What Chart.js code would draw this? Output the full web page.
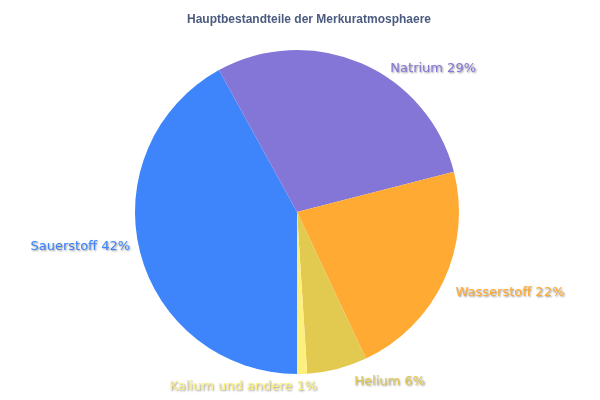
<!DOCTYPE html>
<html><head><meta charset="utf-8">
<script src="https://cdn.jsdelivr.net/npm/chart.js@4/dist/chart.umd.min.js"></script>
<style>html,body{margin:0;padding:0;background:#fff}#wrap{width:600px;height:400px}</style>
</head><body><div id="wrap"><canvas id="c"></canvas></div>
<script>
const categories = ["Sauerstoff", "Natrium", "Wasserstoff", "Helium", "Kalium und andere"];
const values = [42, 29, 22, 6, 1];
const colors = ["#3e84fb", "#8476d6", "#ffab33", "#e2c94f", "#fff07e"];
const titleText = "Hauptbestandteile der Merkuratmosphaere";
// label placement relative to slice edge point: [dx, dy, align]
const labelOffsets = [[-10, -6, "right"], [29, 5, "left"], [12, 12, "left"], [17, 13, "left"], [15, 13, "right"]];

const labelPlugin = {
  id: "outLabels",
  afterDraw(chart) {
    const ctx = chart.ctx;
    const meta = chart.getDatasetMeta(0);
    ctx.save();
    ctx.font = "bold 12px 'Liberation Sans', Arial, sans-serif";
    ctx.fillStyle = "#4b5b80";
    ctx.textAlign = "center";
    ctx.textBaseline = "middle";
    ctx.fillText(titleText, 309, 20);
    ctx.font = "13px 'DejaVu Sans', sans-serif";
    ctx.textBaseline = "middle";
    meta.data.forEach((arc, i) => {
      const p = arc.getProps(["x", "y", "startAngle", "endAngle", "outerRadius"], true);
      const mid = (p.startAngle + p.endAngle) / 2;
      const ax = p.x + Math.cos(mid) * p.outerRadius;
      const ay = p.y + Math.sin(mid) * p.outerRadius;
      const o = labelOffsets[i];
      ctx.textAlign = o[2];
      ctx.shadowColor = "rgba(0,0,0,0.45)";
      ctx.shadowOffsetX = 1;
      ctx.shadowOffsetY = 1;
      ctx.shadowBlur = 2;
      ctx.fillStyle = colors[i];
      ctx.fillText(categories[i] + " " + values[i] + "%", ax + o[0], ay + o[1]);
    });
    ctx.restore();
  }
};

new Chart(document.getElementById("c"), {
  type: "pie",
  data: {
    labels: categories,
    datasets: [{ data: values, backgroundColor: colors, borderWidth: 0, hoverOffset: 0 }]
  },
  options: {
    responsive: true,
    maintainAspectRatio: false,
    animation: false,
    rotation: 180,
    layout: { padding: { top: 50, bottom: 26, left: 135, right: 141 } },
    plugins: { legend: { display: false }, title: { display: false }, tooltip: { enabled: false } }
  },
  plugins: [labelPlugin]
});
</script></body></html>
